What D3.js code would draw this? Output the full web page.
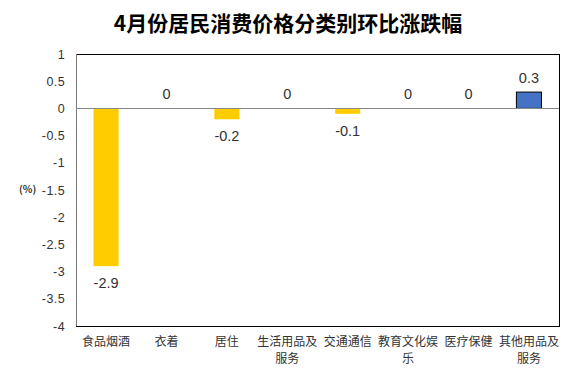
<!DOCTYPE html>
<html><head><meta charset="utf-8">
<script src="https://cdn.jsdelivr.net/npm/d3@7"></script>
<style>body{margin:0;background:#fff}svg{display:block}</style>
</head><body>
<svg id="c" width="574" height="374"></svg>
<script>
const categories = ["食品烟酒","衣着","居住","生活用品及服务","交通通信","教育文化娱乐","医疗保健","其他用品及服务"];
const values = [-2.9, 0, -0.2, 0, -0.1, 0, 0, 0.3];
const yTicks = [1, 0.5, 0, -0.5, -1, -1.5, -2, -2.5, -3, -3.5, -4];
const title = "4月份居民消费价格分类别环比涨跌幅";
const unitLabel = "(%)";

(function () {
const svg = d3.select("#c");
const pL = 76, pR = 559, pT = 54, pB = 326;
const x = d3.scaleBand().domain(categories).range([pL, pR]).paddingInner(0.585).paddingOuter(0.29);
const y = d3.scaleLinear().domain([-4, 1]).range([pB, pT]);
const font = "'Liberation Sans', Arial, 'Noto Sans CJK SC', sans-serif";

svg.append("text").attr("x", 288).attr("y", 31).attr("text-anchor", "middle")
  .attr("font-family", "'Noto Sans CJK SC', sans-serif").attr("font-weight", "bold")
  .attr("font-size", 21).attr("fill", "#000").text(title);

// frame
svg.append("rect").attr("x", pL).attr("y", pT).attr("width", pR - pL).attr("height", pB - pT)
  .attr("fill", "none").attr("stroke", "#000").attr("stroke-width", 1).attr("shape-rendering", "crispEdges");
svg.append("line").attr("x1", pL).attr("x2", pL).attr("y1", pT).attr("y2", pB)
  .attr("stroke", "#777").attr("shape-rendering", "crispEdges");

// y axis
const yAxis = d3.axisLeft(y).tickValues(yTicks).tickSize(0).tickPadding(11).tickFormat(d => d3.format("")(d).replace("−", "-"));
const ga = svg.append("g").attr("transform", `translate(${pL},0)`).call(yAxis);
ga.select(".domain").remove();
ga.selectAll("text").attr("font-family", font).attr("font-size", 12.5).attr("fill", "#333").attr("letter-spacing", 0.4);

svg.append("text").attr("x", 19).attr("y", 193).attr("font-family", "'Noto Sans CJK SC', sans-serif")
  .attr("font-size", 10).attr("font-weight", "bold").attr("fill", "#333").text(unitLabel);

// bars
svg.selectAll("rect.bar").data(values).enter().append("rect").attr("class", "bar")
  .attr("x", (d, i) => x(categories[i]))
  .attr("width", x.bandwidth())
  .attr("y", d => y(Math.max(0, d)))
  .attr("height", d => Math.abs(y(d) - y(0)))
  .attr("fill", d => d > 0 ? "#4472C4" : "#FFCC00")
  .attr("stroke", d => d > 0 ? "#000" : "none").attr("stroke-width", 1);

// zero line
svg.append("line").attr("x1", pL).attr("x2", pR).attr("y1", y(0)).attr("y2", y(0))
  .attr("stroke", "#888").attr("stroke-width", 1).attr("shape-rendering", "crispEdges");

// value labels
svg.selectAll("text.val").data(values).enter().append("text").attr("class", "val")
  .attr("x", (d, i) => x(categories[i]) + x.bandwidth() / 2)
  .attr("y", d => d < 0 ? y(d) + 22 : y(d) - 9)
  .attr("text-anchor", "middle").attr("font-family", font).attr("font-size", 14.5).attr("fill", "#333")
  .text(d => d3.format("")(d).replace("−", "-"));

// category labels
const cat = svg.selectAll("text.cat").data(categories).enter().append("text").attr("class", "cat")
  .attr("text-anchor", "middle").attr("font-family", "'Noto Sans CJK SC', sans-serif")
  .attr("font-size", 12).attr("fill", "#333");
cat.each(function(d) {
  const cx = x(d) + x.bandwidth() / 2;
  const lines = [];
  for (let i = 0; i < d.length; i += 5) lines.push(d.slice(i, i + 5));
  d3.select(this).selectAll("tspan").data(lines).enter().append("tspan")
    .attr("x", cx).attr("y", (l, j) => 346 + j * 17).text(l => l);
});
})();
</script>
</body></html>
